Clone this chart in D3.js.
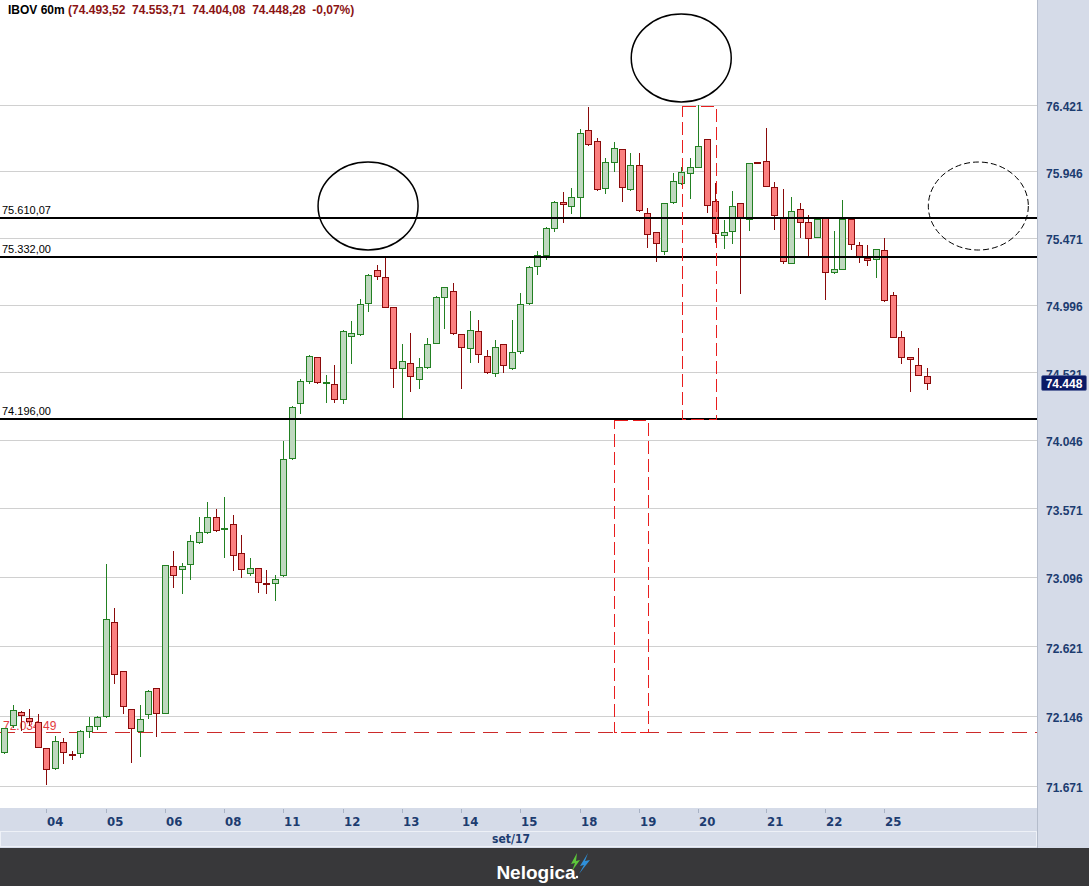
<!DOCTYPE html>
<html><head><meta charset="utf-8">
<script src="https://cdn.jsdelivr.net/npm/d3@7"></script>
<style>
html,body{margin:0;padding:0;background:#fff;overflow:hidden}
svg{display:block}
</style></head><body>
<svg id="chart" width="1089" height="886"></svg>
<script>
// ---- data ----
const days = ["01","04","05","06","08","11","12","13","14","15","18","19","20","21","22","25"];
const candlesPerDay = [5,7,7,7,7,7,7,7,7,7,7,7,8,7,7,6];
const monthLabel = "set/17";

const open = [71903,72084,72170,72134,72107,71926,71795,71967,71888,71893,72046,72078,
72143,72785,72450,72191,72046,72161,72334,72168,73175,73155,73184,73336,73409,73509,
73430,73461,73260,73122,73157,73052,73053,73108,73919,74303,74461,74627,74445,74437,
74331,74776,74788,75006,75242,75190,74978,74548,74584,74471,74555,74729,75053,75091,
74788,74689,74809,74637,74517,74717,74548,74668,75006,75270,75346,75538,75724,75697,
75764,76240,76161,75824,76014,76103,75817,75990,75645,75510,75379,75724,75860,75931,
75978,76175,75731,75488,75519,75717,75605,76012,76018,75835,75614,75294,75674,75585,
75478,75610,75226,75251,75602,75417,75329,75318,75384,75065,74767,74626,74572,74493.52];
const high = [72066,72220,72176,72191,72157,71930,72010,71994,71910,72050,72137,72145,
73186,72882,72455,72193,72220,72319,72336,73180,73274,73191,73385,73511,73613,73564,
73648,73525,73387,73226,73160,73145,73108,74039,74286,74471,74644,74631,74500,74572,
74818,74881,75034,75214,75277,75336,74980,74717,74799,74619,74760,75058,75125,75148,
74790,74952,74888,74677,74748,74719,74888,75081,75267,75375,75551,75730,75800,75824,
76247,76409,76182,76039,76158,76107,76074,76074,75681,75512,75719,75931,75978,76039,
76421,76178,75860,75597,75807,75719,76005,76014,76254,75869,75817,75760,75717,75633,
75608,75621,75519,75740,75605,75441,75417,75391,75467,75088,74813,74629,74689,74553.71];
const low = [71897,72073,72050,72084,71932,71682,71788,71829,71851,71870,72001,72055,
72139,72368,72164,71836,71876,72130,72012,72164,73030,72985,73081,73331,73403,73414,
73233,73145,73095,73110,72991,72985,72939,73103,73914,74233,74447,74443,74314,74314,
74303,74584,74783,74954,75178,74978,74419,74209,74391,74412,74553,74727,74834,74791,
74408,74595,74595,74517,74496,74525,74545,74654,75001,75211,75318,75521,75585,75650,
75626,76135,75813,75792,75950,75735,75814,75665,75407,75308,75355,75721,75857,75752,
75976,75657,75443,75400,75431,75081,75526,76006,75837,75531,75289,75292,75474,75341,
75476,75034,75223,75249,75389,75301,75277,75194,75026,74769,74584,74389,74503,74404.08];
const close = [72062,72186,72150,72113,71937,71784,71974,71899,71882,72046,72078,72137,
72806,72430,72211,72062,72123,72314,72164,73176,73108,73171,73342,73405,73509,73419,
73435,73247,73150,73157,73060,73049,73081,73914,74275,74459,74635,74452,74449,74331,
74811,74795,74999,75207,75202,74982,74548,74600,74496,74555,74717,75048,75119,74795,
74696,74816,74647,74520,74700,74570,74661,74999,75261,75345,75542,75724,75714,75760,
76218,76139,75817,76010,76110,75831,75990,75669,75495,75431,75717,75876,75938,75974,
76125,75702,75502,75514,75697,75615,76003,76008,75840,75632,75306,75660,75583,75467,
75605,75230,75247,75602,75424,75341,75313,75389,75029,74771,74630,74612,74500,74448.28];

const yTicks = [76421,75946,75471,74996,74521,74046,73571,73096,72621,72146,71671];
const levels = [75610.07, 75332.00, 74196.00];
const targetLevel = 72034.49;
// measured-move boxes: candle index range and price range
const boxes = [
  {i0:80, i1:84, top:76421, bottom:74196},
  {i0:72, i1:76, top:74196, bottom:72034.49}
];
// circled areas: candle index and price of centre
const circles = [
  {i:43, price:75697, dashed:false},
  {i:80, price:76760, dashed:false},
  {i:115.1, price:75697, dashed:true}
];

// ---- layout ----
const W = 1089, H = 886;
const plotR = 1037, plotB = 808, footerT = 848;
const svg = d3.select("#chart");
const loc = d3.formatLocale({decimal:",", thousands:".", grouping:[3], currency:["R$",""], minus:"-"});
const fmt0 = loc.format(",.0f"), fmt2 = loc.format(",.2f");
const sans = "'Liberation Sans', Arial, sans-serif";
const narrow = "'Liberation Sans Narrow','DejaVu Sans Condensed','Roboto Condensed',sans-serif";

const candles = [];
let idx = 0;
days.forEach((d, di) => {
  for (let k = 0; k < candlesPerDay[di]; k++) {
    candles.push({i: idx, day: d, first: k === 0, o: open[idx], h: high[idx], l: low[idx], c: close[idx]});
    idx++;
  }
});

const x = d3.scaleLinear().domain([0, 109]).range([4.1, 926.7]);
const y = d3.scaleLog().domain([71671, 76421]).range([786, 105]);
const px = v => Math.round(v) + 0.5;
const pxEven = v => 2 * Math.round(v / 2) + 0.5;

// backgrounds
svg.append("rect").attr("x",0).attr("y",0).attr("width",W).attr("height",H).attr("fill","#d5dbe8");
svg.append("rect").attr("x",0).attr("y",0).attr("width",plotR).attr("height",plotB).attr("fill","#ffffff");
svg.append("line").attr("x1",plotR+0.5).attr("x2",plotR+0.5).attr("y1",0).attr("y2",footerT)
  .attr("stroke","#b4bccb");

const defs = svg.append("defs");
defs.append("clipPath").attr("id","plotclip").append("rect")
  .attr("x",0).attr("y",0).attr("width",plotR).attr("height",plotB);

const plot = svg.append("g").attr("clip-path","url(#plotclip)");

// grid
plot.append("g").selectAll("line").data(yTicks).join("line")
  .attr("x1",0).attr("x2",plotR)
  .attr("y1",d=>px(y(d))).attr("y2",d=>px(y(d)))
  .attr("stroke","#d0d0d0").attr("stroke-width",1);

// target dashed line and label
plot.append("line").attr("x1",0).attr("x2",plotR)
  .attr("y1",px(y(targetLevel))).attr("y2",px(y(targetLevel)))
  .attr("stroke","#cc2a2a").attr("stroke-width",1).attr("stroke-dasharray","15,8");
plot.append("text").attr("x",3).attr("y",Math.round(y(targetLevel))-2)
  .attr("font-family",sans).attr("font-size",12)
  .attr("fill","#e23a40").text(fmt2(targetLevel));

// candles
const upStroke = "#228022", upFill = "#bfd8bf", dnStroke = "#8a0a0a", dnFill = "#fb7f7f";
const cg = plot.append("g");
cg.selectAll("line").data(candles).join("line")
  .attr("x1",d=>px(x(d.i))).attr("x2",d=>px(x(d.i)))
  .attr("y1",d=>Math.round(y(d.h))).attr("y2",d=>Math.round(y(d.l))+1)
  .attr("stroke",d=>d.c>=d.o?upStroke:dnStroke).attr("stroke-width",1);
cg.selectAll("rect").data(candles).join("rect")
  .attr("x",d=>Math.round(x(d.i))-2.5)
  .attr("y",d=>px(y(Math.max(d.o,d.c))))
  .attr("width",6)
  .attr("height",d=>Math.max(1, Math.round(y(Math.min(d.o,d.c)))-Math.round(y(Math.max(d.o,d.c)))))
  .attr("fill",d=>d.c>=d.o?upFill:dnFill)
  .attr("stroke",d=>d.c>=d.o?upStroke:dnStroke).attr("stroke-width",1);

// level lines
plot.append("g").selectAll("line").data(levels).join("line")
  .attr("x1",0).attr("x2",plotR)
  .attr("y1",d=>Math.round(y(d))).attr("y2",d=>Math.round(y(d)))
  .attr("stroke","#000").attr("stroke-width",2);
plot.append("g").selectAll("text").data(levels).join("text")
  .attr("x",2).attr("y",d=>Math.round(y(d))-4)
  .attr("font-family",sans).attr("font-size",11)
  .attr("fill","#000").text(d=>fmt2(d));

// measured-move boxes (dashed red)
svg.append("g").selectAll("path").data(boxes).join("path")
  .attr("d", b => {
    const x0 = pxEven(x(b.i0)), x1 = pxEven(x(b.i1)), y0 = px(y(b.top)) + 1, y1 = px(y(b.bottom));
    return `M${x0},${y0}H${x1}V${y1}H${x0}Z`;
  })
  .attr("fill","none").attr("stroke","#e81e1e").attr("stroke-width",1)
  .attr("stroke-dasharray","13,5").attr("shape-rendering","crispEdges");

// circles
plot.append("g").selectAll("ellipse").data(circles).join("ellipse")
  .attr("cx",d=>x(d.i)).attr("cy",d=>y(d.price)).attr("rx",50).attr("ry",44)
  .attr("fill","none").attr("stroke","#000").attr("stroke-width",d=>d.dashed?1:1.5)
  .attr("stroke-dasharray",d=>d.dashed?"6,3":null);

// right axis
const yAxis = d3.axisRight(y).tickValues(yTicks).tickFormat(fmt0).tickSize(0).tickPadding(0);
const ya = svg.append("g").attr("transform",`translate(1046,2)`).call(yAxis);
ya.select(".domain").remove();
ya.selectAll("text").attr("font-family",sans)
  .attr("font-size",12).attr("font-weight","bold").attr("fill","#1c3c70");

// last price tag (sits over the nearby axis label, as in the original)
const last = candles[candles.length-1];
const ly = Math.round(y(last.c));
svg.append("rect").attr("x",1041.5).attr("y",ly-7.5).attr("width",45).attr("height",15).attr("rx",1.5)
  .attr("fill","#0b1a66").attr("stroke","#5a6aa0").attr("stroke-width",0.6);
svg.append("text").attr("x",1064).attr("y",ly+0.5).attr("dy","0.36em").attr("text-anchor","middle")
  .attr("font-family",sans).attr("font-size",12).attr("font-weight","bold")
  .attr("fill","#fff").text(fmt0(last.c));

// x axis strip
const dayStarts = candles.filter(d=>d.first && d.i>0);
const xa = svg.append("g").attr("transform",`translate(0,${plotB})`);
xa.selectAll("line").data(dayStarts).join("line")
  .attr("x1",d=>px(x(d.i))).attr("x2",d=>px(x(d.i)))
  .attr("y1",1).attr("y2",5).attr("stroke","#a8b2c4");
xa.selectAll("text").data(dayStarts).join("text")
  .attr("x",d=>Math.round(x(d.i))+1).attr("y",18)
  .attr("font-family",narrow).attr("font-size",13).attr("font-weight","bold")
  .attr("font-stretch","condensed")
  .attr("fill","#1c3c70").text(d=>d.day);

svg.append("rect").attr("x",0.5).attr("y",831.5).attr("width",plotR-1).attr("height",15)
  .attr("fill","#d8deea").attr("stroke","#eef1f7");
svg.append("text").attr("x",511).attr("y",843).attr("text-anchor","middle")
  .attr("font-family",narrow).attr("font-size",12).attr("font-weight","bold").attr("font-stretch","condensed")
  .attr("fill","#1c3c70").text(monthLabel);

// footer
svg.append("rect").attr("x",0).attr("y",footerT).attr("width",W).attr("height",H-footerT).attr("fill","#38383a");
svg.append("text").attr("x",536).attr("y",879).attr("text-anchor","middle")
  .attr("font-family",sans).attr("font-size",19).attr("font-weight","bold")
  .attr("fill","#fff").text("Nelogica");
svg.append("circle").attr("cx",577).attr("cy",877).attr("r",1.2).attr("fill","#fff");
svg.append("path").attr("d","M577,853 L571,864 L575,863 L572,871 L580,860 L576,861 Z").attr("fill","#5cc63a");
svg.append("path").attr("d","M588,853 L580,866 L584,865 L579,874 L590,860 L585,861 Z").attr("fill","#2f8fd8");

// title
const prevC = candles[candles.length-2].c;
const chg = (last.c - prevC) / prevC * 100;
const title = svg.append("text").attr("x",8).attr("y",14)
  .attr("font-family",sans).attr("font-size",12).attr("font-weight","bold")
  .style("white-space","pre");
title.append("tspan").attr("fill","#000").text("IBOV 60m ");
title.append("tspan").attr("fill","#8b1414")
  .text(`(${fmt2(last.o)}  ${fmt2(last.h)}  ${fmt2(last.l)}  ${fmt2(last.c)}  ${loc.format(",.2f")(chg)}%)`);
</script>
</body></html>
